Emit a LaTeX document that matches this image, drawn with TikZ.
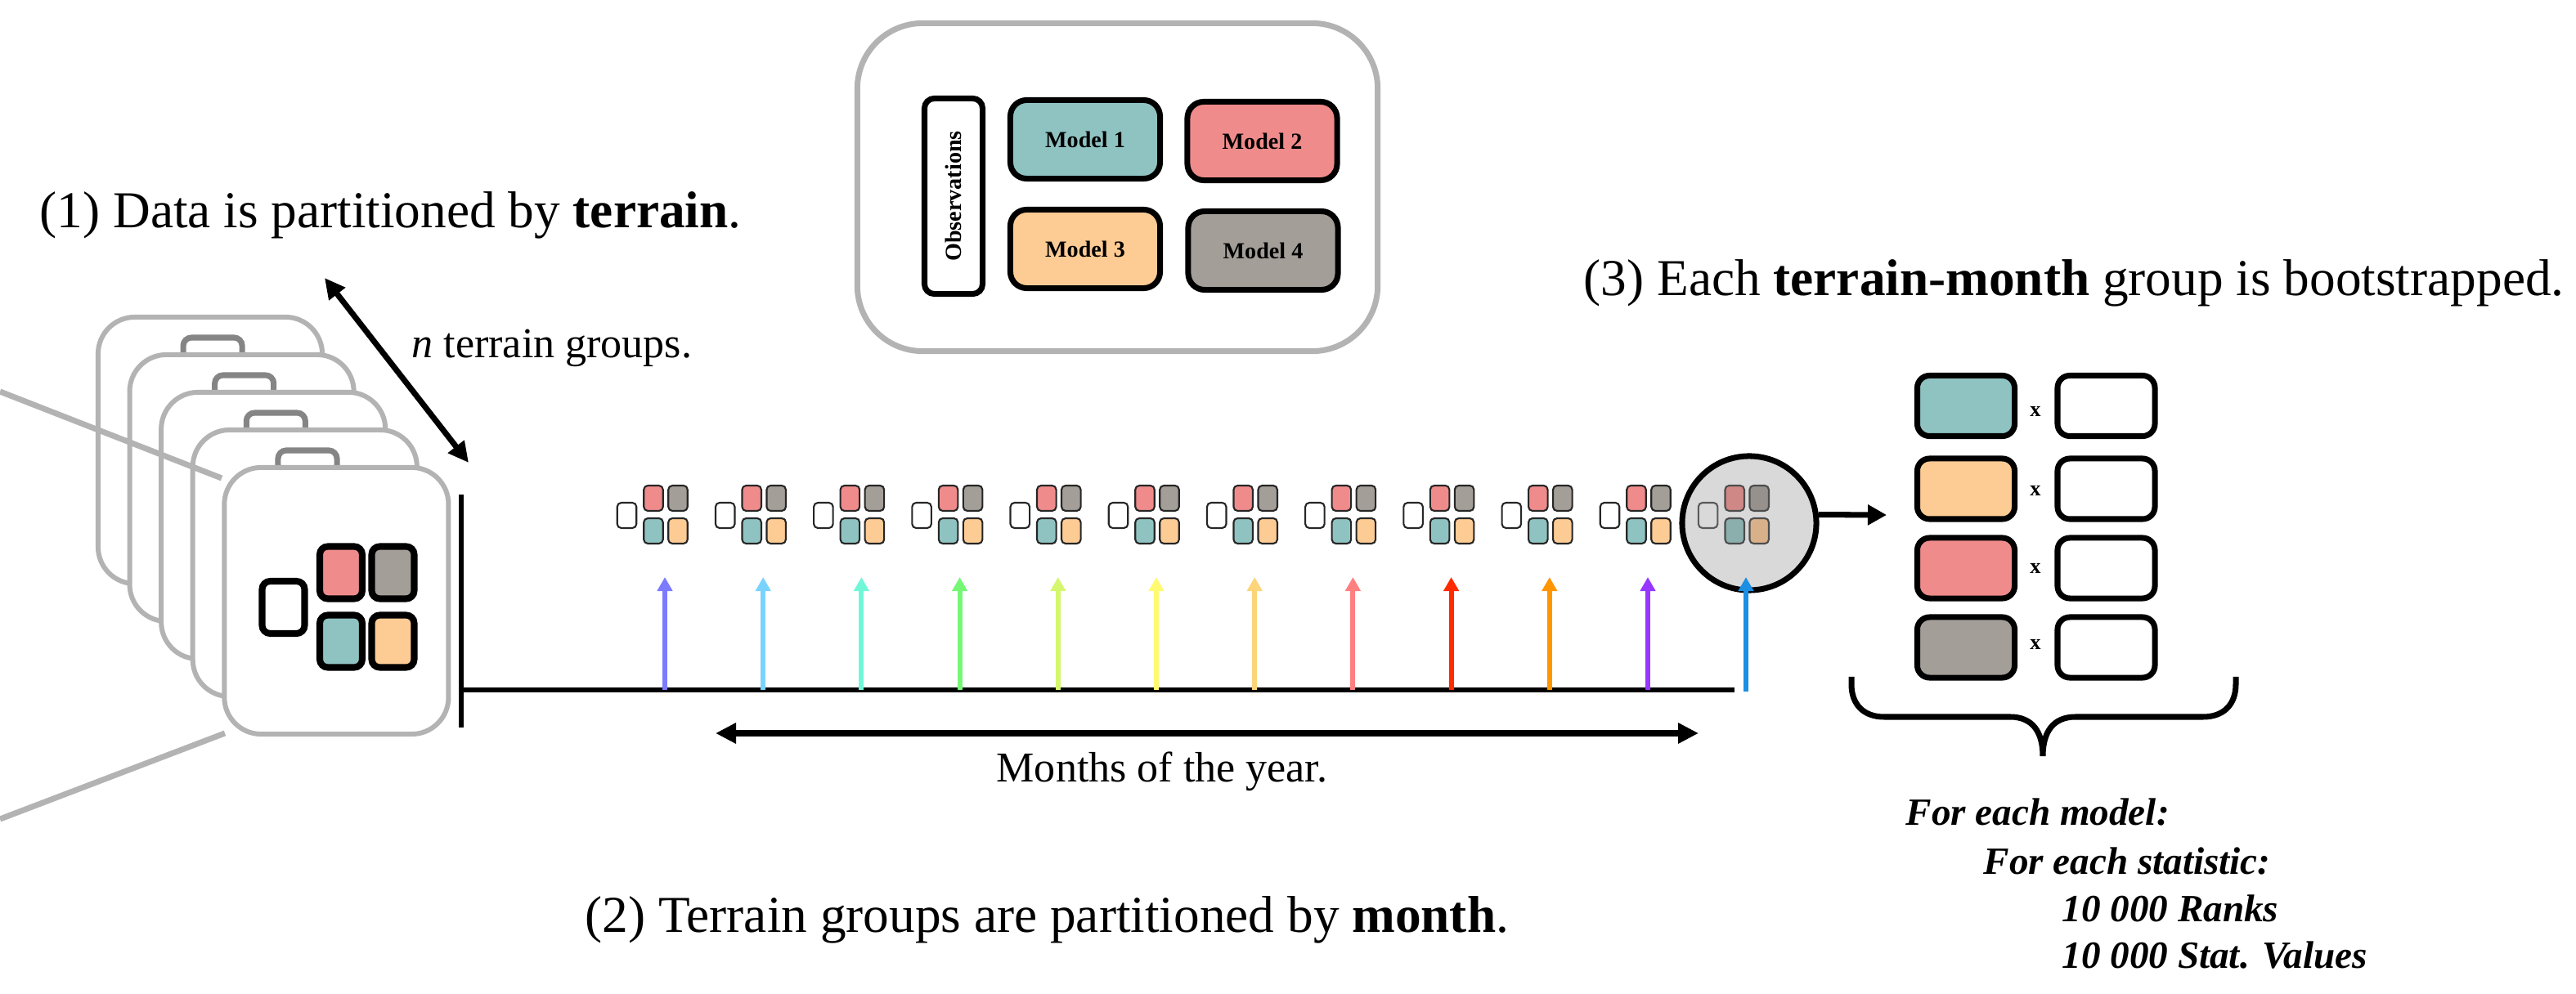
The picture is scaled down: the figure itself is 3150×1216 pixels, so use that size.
\documentclass[tikz,border=0pt]{standalone}
\usepackage{fontspec}
\setmainfont{Liberation Serif}
\usetikzlibrary{arrows.meta}
\definecolor{mteal}{HTML}{8FC3C2}
\definecolor{msalmon}{HTML}{F08B8B}
\definecolor{mpeach}{HTML}{FDCB94}
\definecolor{mgray}{HTML}{A39E98}
\definecolor{dteal}{HTML}{8AAFAC}
\definecolor{dsalmon}{HTML}{D08886}
\definecolor{dpeach}{HTML}{D8B08A}
\definecolor{dgray}{HTML}{96918C}
\definecolor{cardgray}{HTML}{B3B3B3}
\definecolor{handlegray}{HTML}{858585}
\definecolor{zoomfill}{HTML}{D9D9D9}
\definecolor{a1}{HTML}{7B7BFF}
\definecolor{a2}{HTML}{7AD3FF}
\definecolor{a3}{HTML}{70F7D8}
\definecolor{a4}{HTML}{75F775}
\definecolor{a5}{HTML}{D4F76E}
\definecolor{a6}{HTML}{FFFA72}
\definecolor{a7}{HTML}{FCD57A}
\definecolor{a8}{HTML}{FF8080}
\definecolor{a9}{HTML}{FF2A00}
\definecolor{a10}{HTML}{FF9500}
\definecolor{a11}{HTML}{9638FF}
\definecolor{a12}{HTML}{1A8FE3}
\newcommand\ttlsize{\fontsize{18}{22}\selectfont}
\newcommand\midsize{\fontsize{14.8}{18}\selectfont}
\newcommand\listsize{\fontsize{13.4}{16}\selectfont}
\begin{document}
\begin{tikzpicture}[x=0.01cm,y=-0.01cm,
  card/.style={draw=cardgray, fill=white, line width=1.7pt, rounded corners=0.45cm,
    minimum width=2.74cm, minimum height=3.26cm, inner sep=0pt},
  handle/.style={draw=handlegray, line width=2pt, rounded corners=0.1cm,
    minimum width=0.72cm, minimum height=0.28cm, inner sep=0pt},
  greyline/.style={draw=cardgray, line width=2pt},
  bigbox/.style={draw=black, line width=2.3pt, rounded corners=0.1cm,
    minimum width=0.52cm, minimum height=0.64cm, inner sep=0pt},
  sbox/.style={draw=black!85, line width=0.6pt, rounded corners=0.05cm,
    minimum width=0.235cm, minimum height=0.31cm, inner sep=0pt},
  legbox/.style={draw=black, line width=2pt, rounded corners=0.2cm,
    minimum width=1.83cm, minimum height=0.96cm, inner sep=0pt,
    font=\fontsize{8}{9}\selectfont\bfseries},
  resbox/.style={draw=black, line width=2pt, rounded corners=0.15cm,
    minimum width=1.19cm, minimum height=0.74cm, inner sep=0pt},
  marr/.style={line width=1.7pt, -{Triangle[length=0.17cm,width=0.18cm]}},
  dblarr/.style={line width=2pt, {Triangle[length=0.25cm,width=0.24cm]}-{Triangle[length=0.25cm,width=0.24cm]}},
  txt/.style={inner sep=0pt, anchor=base west}
]
\useasboundingbox (0,0) rectangle (3150,1216);

% ---------- legend ----------
\node[draw=cardgray, line width=2pt, rounded corners=0.8cm, minimum width=6.36cm,
  minimum height=4.01cm, inner sep=0pt] (legend) at (1366.5,229) {};
\node[draw=black, line width=2pt, rounded corners=0.12cm, rotate=90,
  minimum width=2.39cm, minimum height=0.71cm, inner sep=0pt,
  font=\fontsize{8}{9}\selectfont\bfseries] (obs) at (1166,240) {Observations};
\node[legbox, fill=mteal] (m1) at (1327,170.5) {Model 1};
\node[legbox, fill=msalmon] (m2) at (1543.5,172.5) {Model 2};
\node[legbox, fill=mpeach] (m3) at (1327,304.5) {Model 3};
\node[legbox, fill=mgray] (m4) at (1544.5,306.5) {Model 4};

% ---------- card stack ----------
\foreach \k in {0,1,2,3}{
  \pgfmathsetmacro\L{117+38.6*\k}
  \pgfmathsetmacro\T{385+46*\k}
  \ifnum\k>0 \node[handle] (h\k) at ({\L+104.5},{\T-4}) {}; \fi
  \node[card] (c\k) at ({\L+140},{\T+166}) {};
}
\coordinate (ul0) at (0,479);
\coordinate (ul1) at (271,585);
\draw[greyline] (ul0) -- (ul1);
\node[handle] (h4) at (376,565) {};
\node[card] (c4) at (411.4,735) {};
\coordinate (ll0) at (0,1002);
\coordinate (ll1) at (275,897);
\draw[greyline] (ll0) -- (ll1);

\node[bigbox, fill=white] (fo) at (346.5,743) {};
\node[bigbox, fill=msalmon] (fa) at (417,700.5) {};
\node[bigbox, fill=mgray] (fb) at (480.5,700.5) {};
\node[bigbox, fill=mteal] (fc) at (417,784.5) {};
\node[bigbox, fill=mpeach] (fd) at (480.5,784.5) {};

% n terrain groups arrow
\coordinate (na0) at (397,340);
\coordinate (na1) at (573,566);
\draw[dblarr] (na0) -- (na1);
\node[txt, font=\midsize] (ntxt) at (503,438) {\textit{n} terrain groups.};

% ---------- timeline ----------
\coordinate (bar0) at (564,605);
\coordinate (bar1) at (564,890);
\coordinate (tl0) at (564,844);
\coordinate (tl1) at (2121,844);
\draw[line width=1.8pt] (bar0) -- (bar1);
\draw[line width=1.8pt] (tl0) -- (tl1);

% month groups
\foreach \i/\ac in {0/a1,1/a2,2/a3,3/a4,4/a5,5/a6,6/a7,7/a8,8/a9,9/a10,10/a11}{
  \pgfmathsetmacro\X{813+120.2*\i}
  \node[sbox, fill=white] (g\i-o) at ({\X-46.5},630.5) {};
  \node[sbox, fill=msalmon] (g\i-a) at ({\X-14},609.5) {};
  \node[sbox, fill=mgray] (g\i-b) at ({\X+16},609.5) {};
  \node[sbox, fill=mteal] (g\i-c) at ({\X-14},649.5) {};
  \node[sbox, fill=mpeach] (g\i-d) at ({\X+16},649.5) {};
  \coordinate (s\i) at (\X,844);
  \coordinate (e\i) at (\X,706);
  \draw[marr, color=\ac] (s\i) -- (e\i);
}

% zoom circle with last group
\node[circle, draw=black, line width=2pt, fill=zoomfill, minimum size=1.64cm,
  inner sep=0pt] (zoom) at (2139,640) {};
\node[sbox, fill=zoomfill, draw=black!65] (g11-o) at (2088.6,630.5) {};
\node[sbox, fill=dsalmon, draw=black!70] (g11-a) at (2121.2,609.5) {};
\node[sbox, fill=dgray, draw=black!70] (g11-b) at (2151.2,609.5) {};
\node[sbox, fill=dteal, draw=black!70] (g11-c) at (2121.2,649.5) {};
\node[sbox, fill=dpeach, draw=black!70] (g11-d) at (2151.2,649.5) {};
\coordinate (s11) at (2135,846);
\coordinate (e11) at (2135,706);
\draw[marr, color=a12] (s11) -- (e11);

\coordinate (zarr) at (2307,630);
\draw[line width=2pt, -{Triangle[length=0.23cm,width=0.24cm]}] (zoom.7) -- (zarr);

% months arrow
\coordinate (ma0) at (875,897);
\coordinate (ma1) at (2077,897);
\draw[dblarr] (ma0) -- (ma1);
\node[txt, font=\midsize] (mtxt) at (1218,957) {Months of the year.};

% ---------- bootstrap result ----------
\foreach \r/\y/\c/\xy in {1/496.5/mteal/503, 2/598/mpeach/600, 3/695/msalmon/695, 4/792/mgray/788}{
  \node[resbox, fill=\c] (r\r c) at (2404,\y) {};
  \node[resbox, fill=white] (r\r w) at (2575.5,\y) {};
  \node[inner sep=0pt, font=\fontsize{7.5}{9}\selectfont\bfseries] (r\r x) at (2489,\xy) {x};
}
\draw[line width=2pt] (2264,828) -- (2264,837) .. controls (2264,862) and (2279,877) .. (2304,877)
  -- (2458,877) .. controls (2485,877) and (2498,895) .. (2498,925)
  .. controls (2498,895) and (2511,877) .. (2538,877) -- (2694,877)
  .. controls (2719,877) and (2734,862) .. (2734,837) -- (2734,828);

% ---------- texts ----------
\node[txt, font=\ttlsize] (t1) at (48,279) {(1) Data is partitioned by \textbf{terrain}.};
\node[txt, font=\ttlsize] (t2) at (715,1140) {(2) Terrain groups are partitioned by \textbf{month}.};
\node[txt, font=\ttlsize] (t3) at (1936,362) {(3) Each \textbf{terrain-month} group is bootstrapped.};

\node[txt, font=\listsize\bfseries\itshape] (l1) at (2330,1010) {For each model:};
\node[txt, font=\listsize\bfseries\itshape] (l2) at (2425,1070) {For each statistic:};
\node[txt, font=\listsize\bfseries\itshape] (l3) at (2521,1128) {10 000 Ranks};
\node[txt, font=\listsize\bfseries\itshape] (l4) at (2521,1185) {10 000 Stat. Values};
\end{tikzpicture}
\end{document}
